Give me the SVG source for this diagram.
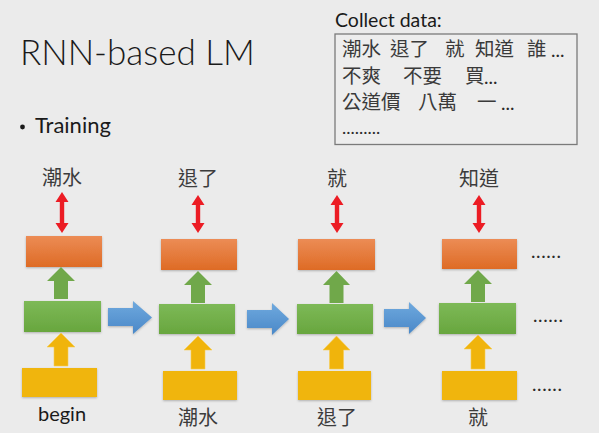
<svg xmlns="http://www.w3.org/2000/svg" width="599" height="433" viewBox="0 0 599 433">
<defs>
<linearGradient id="gOr" x1="0" y1="0" x2="0" y2="1"><stop offset="0" stop-color="#ec8c55"/><stop offset="1" stop-color="#de6b25"/></linearGradient>
<linearGradient id="gGr" x1="0" y1="0" x2="0" y2="1"><stop offset="0" stop-color="#7db957"/><stop offset="1" stop-color="#68a63e"/></linearGradient>
<linearGradient id="gBl" x1="0" y1="0" x2="0" y2="1"><stop offset="0" stop-color="#6fa9de"/><stop offset="1" stop-color="#4a88c8"/></linearGradient>
<filter id="sh" x="-10%" y="-10%" width="120%" height="130%"><feDropShadow dx="0" dy="1" stdDeviation="0.8" flood-color="#000" flood-opacity="0.25"/></filter>
</defs>
<style>
.lat{font-family:Lato,"Open Sans","Liberation Sans",sans-serif;fill:#1a1a1a}
.cjk{font-family:"Noto Sans CJK TC","Noto Sans CJK SC",sans-serif;font-size:20px;fill:#3c3c3c}
.box{font-family:"Noto Sans CJK TC","Noto Sans CJK SC",sans-serif;font-size:19.5px;fill:#3a3a3a}
.dots{font-family:Lato,"Liberation Sans",sans-serif;fill:#2a2a2a}
.or{fill:url(#gOr);filter:url(#sh)}
.gr{fill:url(#gGr);filter:url(#sh)}
.ye{fill:#f0b50c;filter:url(#sh)}
.ga{fill:#70a84a}
.ya{fill:#f0b40c;stroke:#f6cd55;stroke-width:0.6}
.ba{fill:url(#gBl);filter:url(#sh)}
.ra{fill:#ec1c24}
</style>
<rect width="599" height="433" fill="#ebebeb"/>
<text class="lat" x="20" y="65" font-size="35" font-weight="300">RNN-based LM</text>
<circle cx="22.5" cy="127" r="2.4" fill="#1a1a1a"/>
<text class="lat" x="35" y="133" font-size="22">Training</text>
<g id="collect">
<text class="lat" x="335" y="27" font-size="19.5">Collect data:</text>
<rect x="335" y="34" width="242" height="110.5" fill="#ededed" stroke="#7a7a7a" stroke-width="1.3"/>
<text class="box" y="56"><tspan x="342">潮水</tspan><tspan x="390">退了</tspan><tspan x="445">就</tspan><tspan x="475">知道</tspan><tspan x="527">誰</tspan></text>
<text class="dots" x="551" y="57" font-size="19">...</text>
<text class="box" y="83"><tspan x="342">不爽</tspan><tspan x="403">不要</tspan><tspan x="465">買</tspan></text>
<text class="dots" x="484" y="84" font-size="19">...</text>
<text class="box" y="109"><tspan x="342">公道價</tspan><tspan x="418">八萬</tspan><tspan x="477">一</tspan></text>
<text class="dots" x="501" y="110" font-size="19">...</text>
<text class="dots" x="342" y="134" font-size="18">.........</text>
</g>
<g id="step1">
<text class="cjk" x="62" y="185" text-anchor="middle">潮水</text>
<rect class="or" x="26" y="236" width="76" height="31"/>
<rect class="gr" x="24" y="301" width="77" height="31"/>
<rect class="ye" x="22" y="368" width="75" height="29"/>
<text class="lat" x="62" y="421" font-size="20" text-anchor="middle">begin</text>
</g>
<g id="step2">
<text class="cjk" x="198" y="186" text-anchor="middle">退了</text>
<rect class="or" x="161" y="239" width="76" height="31"/>
<rect class="gr" x="159" y="304" width="76" height="30"/>
<rect class="ye" x="163" y="371" width="74" height="29"/>
<text class="cjk" x="198" y="425" text-anchor="middle">潮水</text>
</g>
<g id="step3">
<text class="cjk" x="337" y="186" text-anchor="middle">就</text>
<rect class="or" x="298" y="239" width="77" height="31"/>
<rect class="gr" x="297" y="304" width="76" height="30"/>
<rect class="ye" x="298" y="371" width="73" height="29"/>
<text class="cjk" x="337" y="425" text-anchor="middle">退了</text>
</g>
<g id="step4">
<text class="cjk" x="479" y="186" text-anchor="middle">知道</text>
<rect class="or" x="442" y="239" width="75" height="30"/>
<rect class="gr" x="439" y="303" width="77" height="31"/>
<rect class="ye" x="442" y="371" width="75" height="29"/>
<text class="cjk" x="478" y="425" text-anchor="middle">就</text>
</g>
<g id="more">
<text class="dots" x="531" y="258" font-size="19" letter-spacing="0.6">......</text>
<text class="dots" x="533" y="322" font-size="19" letter-spacing="0.6">......</text>
<text class="dots" x="532" y="391" font-size="19" letter-spacing="0.6">......</text>
</g>
<g id="connectors">
<path class="ga" d="M61,267 L75,281 L68,281 L68,299 L54,299 L54,281 L47,281 Z"/>
<path class="ga" d="M198,271 L212,285 L205,285 L205,303 L191,303 L191,285 L184,285 Z"/>
<path class="ga" d="M336.5,271 L350,285 L343.5,285 L343.5,303 L329.5,303 L329.5,285 L323,285 Z"/>
<path class="ga" d="M478,270 L492,284 L485,284 L485,302 L471,302 L471,284 L464,284 Z"/>
<path class="ya" d="M61,333 L75,347 L68,347 L68,366 L54,366 L54,347 L47,347 Z"/>
<path class="ya" d="M198,336 L212,350 L205,350 L205,369 L191,369 L191,350 L184,350 Z"/>
<path class="ya" d="M336.5,336 L350,350 L343.5,350 L343.5,369 L329.5,369 L329.5,350 L323,350 Z"/>
<path class="ya" d="M478,335 L492,349 L485,349 L485,369 L471,369 L471,349 L464,349 Z"/>
<path class="ba" d="M108,308 L133,308 L133,301 L152,317.5 L133,334 L133,326 L108,326 Z"/>
<path class="ba" d="M247,310 L272,310 L272,303 L289,319 L272,335 L272,328 L247,328 Z"/>
<path class="ba" d="M384,309 L409,309 L409,302 L426,318 L409,334 L409,327 L384,327 Z"/>
<path class="ra" d="M62,192 L68.5,202 L64.2,202 L64.2,223 L68.5,223 L62,233 L55.5,223 L59.8,223 L59.8,202 L55.5,202 Z"/>
<path class="ra" d="M198,195 L204.5,205 L200.2,205 L200.2,223 L204.5,223 L198,233 L191.5,223 L195.8,223 L195.8,205 L191.5,205 Z"/>
<path class="ra" d="M337,195 L343.5,205 L339.2,205 L339.2,223 L343.5,223 L337,233 L330.5,223 L334.8,223 L334.8,205 L330.5,205 Z"/>
<path class="ra" d="M479,195 L485.5,205 L481.2,205 L481.2,223 L485.5,223 L479,233 L472.5,223 L476.8,223 L476.8,205 L472.5,205 Z"/>
</g>
</svg>
